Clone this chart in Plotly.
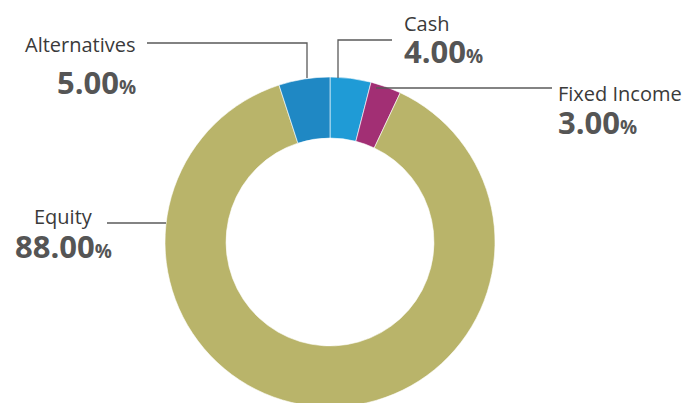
import plotly.graph_objects as go

W, H = 693, 403
OFF = 8  # page body margin: the plot div starts 8px in from the window corner

# allocation data (clockwise from 12 o'clock)
categories = ["Cash", "Fixed Income", "Equity", "Alternatives"]
weights = [4.00, 3.00, 88.00, 5.00]
colors = ["#1f9bd6", "#a22f74", "#b9b46a", "#1f88c4"]

# where each label block sits (window pixels) and its leader line
label_pos = {
    "Cash": dict(x=402, y1=23, y2=51, anchor="left"),
    "Fixed Income": dict(x=556, y1=93, y2=122, anchor="left"),
    "Equity": dict(x=63, y1=216, y2=246, anchor="center"),
    "Alternatives": dict(x=138, y1=45, y2=82, anchor="right"),
}
leaders = {
    "Cash": [(338, 78), (338, 40), (392, 40)],
    "Fixed Income": [(376, 88), (552, 88)],
    "Equity": [(107, 223), (166, 223)],
    "Alternatives": [(147, 43), (307, 43), (307, 78)],
}


def px(x, y):
    return (x - OFF) / W, 1 - (y - OFF) / H


# donut: radius 165 px, centre at (330, 242) in window pixels
cx, cy, r = 330 - OFF, 242 - OFF, 165
fig = go.Figure(go.Pie(
    labels=categories,
    values=weights,
    sort=False,
    direction="clockwise",
    rotation=0,
    hole=0.63,
    marker=dict(colors=colors, line=dict(color="white", width=0.6)),
    textinfo="none",
    hoverinfo="label+percent",
    showlegend=False,
    domain=dict(x=[(cx - r) / W, (cx + r) / W],
                y=[(H - cy - r) / H, (H - cy + r) / H]),
))

for name, pct in zip(categories, weights):
    p = label_pos[name]
    lx, ly = px(p["x"], p["y1"])
    nx, ny = px(p["x"], p["y2"])
    fig.add_annotation(
        x=lx, y=ly, xref="paper", yref="paper", xanchor=p["anchor"], yanchor="middle",
        text=name, showarrow=False,
        font=dict(family="Open Sans", size=20, color="#3a3a3a"),
    )
    fig.add_annotation(
        x=nx, y=ny, xref="paper", yref="paper", xanchor=p["anchor"], yanchor="middle",
        text=f"<b>{pct:.2f}<span style='font-size:19px'>%</span></b>", showarrow=False,
        font=dict(family="Open Sans", size=31, color="#555555"),
    )
    pts = leaders[name]
    path = "M " + " L ".join(f"{px(x, y)[0]},{px(x, y)[1]}" for x, y in pts)
    fig.add_shape(type="path", path=path, xref="paper", yref="paper",
                  line=dict(color="#5a5a5a", width=1.3))

fig.update_layout(
    width=W, height=H,
    margin=dict(l=0, r=0, t=0, b=0),
    paper_bgcolor="white",
    plot_bgcolor="white",
)

fig.write_html("out.html")
